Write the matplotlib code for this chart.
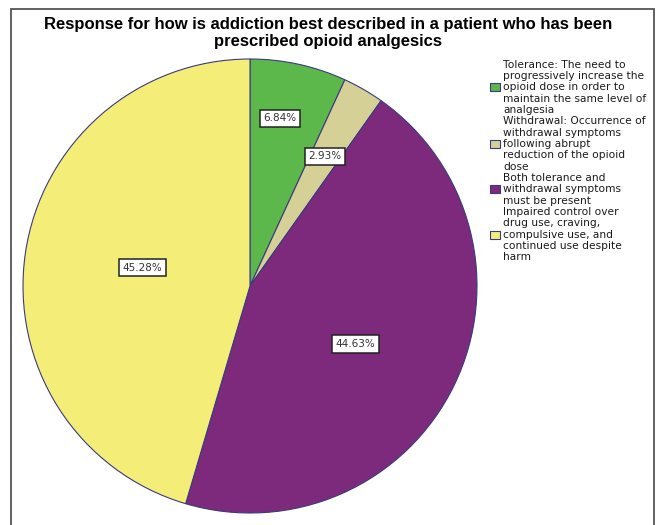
import numpy as np
import matplotlib
matplotlib.use("Agg")
import matplotlib.pyplot as plt
from matplotlib.patches import Rectangle

categories = [
    "Tolerance: The need to\nprogressively increase the\nopioid dose in order to\nmaintain the same level of\nanalgesia",
    "Withdrawal: Occurrence of\nwithdrawal symptoms\nfollowing abrupt\nreduction of the opioid\ndose",
    "Both tolerance and\nwithdrawal symptoms\nmust be present",
    "Impaired control over\ndrug use, craving,\ncompulsive use, and\ncontinued use despite\nharm",
]
values = [6.84, 2.93, 44.63, 45.28]
colors = ["#5cb84b", "#d5d096", "#7d2a7c", "#f4ee78"]
title = "Response for how is addiction best described in a patient who has been\nprescribed opioid analgesics"

W, H = 657, 525
fig = plt.figure(figsize=(W / 100, H / 100), dpi=100)

# frame
fig.patches.append(Rectangle((11 / W, -0.05), (654 - 11) / W, 1.05 - 9 / H,
                             transform=fig.transFigure, fill=False,
                             edgecolor="#555555", linewidth=1.3))

cx, cy, r = 250, 286, 227
ax = fig.add_axes([(cx - r) / W, (H - cy - r) / H, 2 * r / W, 2 * r / H])
wedges, texts, autotexts = ax.pie(
    values, colors=colors, startangle=90, counterclock=False,
    autopct="%1.2f%%", pctdistance=0.6,
    wedgeprops=dict(edgecolor="#3a3a80", linewidth=0.8),
    textprops=dict(fontsize=7.5, color="#333333"))
ax.set_xlim(-1, 1)
ax.set_ylim(-1, 1)
ax.axis("off")

label_r = [0.75, 0.66, 0.53, 0.48]
label_da = [2.3, 0, -3, -1.5]
for w, t, v, lr, da in zip(wedges, autotexts, values, label_r, label_da):
    ang = np.deg2rad((w.theta1 + w.theta2) / 2 + da)
    t.set_text(f"{v:.2f}%")
    t.set_position((lr * np.cos(ang), lr * np.sin(ang)))
    t.set_bbox(dict(boxstyle="square,pad=0.35", facecolor="white",
                    edgecolor="#222222", linewidth=1.1))

fig.text(328 / W, 1 - 33 / H, title, ha="center", va="center",
         fontsize=12, fontweight="bold",
         family=["Liberation Sans", "DejaVu Sans"], linespacing=1.12)

# legend
y = 64.5
step = 11.35
for lab, col in zip(categories, colors):
    lines = lab.split("\n")
    mid = y + step * (len(lines) - 1) / 2
    for k, ln in enumerate(lines):
        fig.text(503 / W, 1 - (y + k * step) / H, ln, ha="left", va="center",
                 fontsize=7.7, color="#1a1a1a")
    fig.patches.append(Rectangle((490 / W, 1 - (mid + 4) / H), 10 / W, 8 / H,
                                 transform=fig.transFigure, facecolor=col,
                                 edgecolor="#3a3a80", linewidth=0.8))
    y += step * len(lines)

fig.savefig("out.png", dpi=100)
